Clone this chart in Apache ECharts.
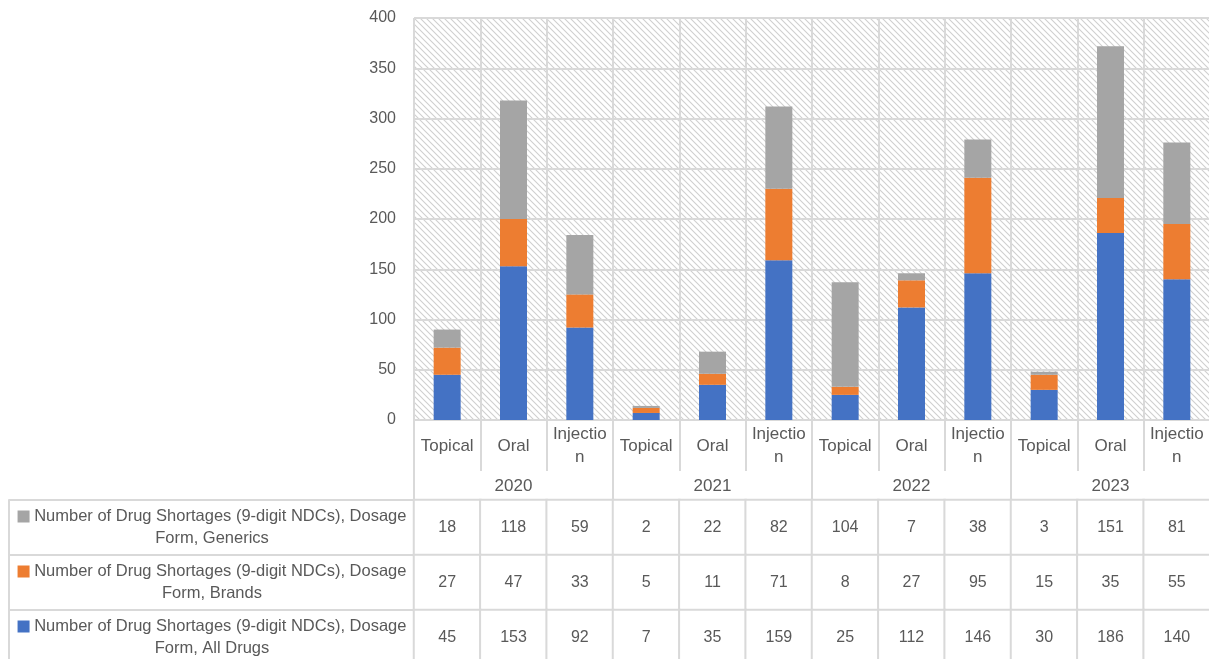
<!DOCTYPE html>
<html>
<head>
<meta charset="utf-8">
<script src="https://cdn.jsdelivr.net/npm/echarts@6/dist/echarts.min.js"></script>
<style>
  html, body { margin: 0; padding: 0; background: #ffffff; }
  #chart { width: 1209px; height: 659px; }
</style>
</head>
<body>
<div id="chart"></div>
<script>
// Dosage forms per year and the three stacked series
const years = ['2020', '2021', '2022', '2023'];
const forms = ['Topical', 'Oral', 'Injection'];
const categories = ['Topical', 'Oral', 'Injection', 'Topical', 'Oral', 'Injection',
                    'Topical', 'Oral', 'Injection', 'Topical', 'Oral', 'Injection'];
const allDrugs = [45, 153, 92, 7, 35, 159, 25, 112, 146, 30, 186, 140];
const brands   = [27, 47, 33, 5, 11, 71, 8, 27, 95, 15, 35, 55];
const generics = [18, 118, 59, 2, 22, 82, 104, 7, 38, 3, 151, 81];
const yTicks = [0, 50, 100, 150, 200, 250, 300, 350, 400];

const seriesNames = [
  'Number of Drug Shortages (9-digit NDCs), Dosage Form, Generics',
  'Number of Drug Shortages (9-digit NDCs), Dosage Form, Brands',
  'Number of Drug Shortages (9-digit NDCs), Dosage Form, All Drugs'
];
const colors = { all: '#4472c4', brands: '#ed7d31', generics: '#a5a5a5' };

const FONT = 'Liberation Sans, Arial, sans-serif';
const TEXT = '#595959';
const LINE = '#d9d9d9';

// Light diagonal hatch for the plot area
function hatch() {
  const s = 6;
  const c = document.createElement('canvas');
  c.width = s; c.height = s;
  const g = c.getContext('2d');
  g.fillStyle = '#ffffff';
  g.fillRect(0, 0, s, s);
  g.strokeStyle = '#cfcfcf';
  g.lineWidth = 1.1;
  g.beginPath();
  g.moveTo(-1, -1); g.lineTo(s + 1, s + 1);
  g.moveTo(-1, s - 1); g.lineTo(1, s + 1);
  g.moveTo(s - 1, -1); g.lineTo(s + 1, 1);
  g.stroke();
  return c;
}

// Table rows: Generics (top), Brands, All Drugs (bottom)
const rowKeys = ['Generics', 'Brands', 'All Drugs'];
const rowValues = [generics, brands, allDrugs];
const rowColors = [colors.generics, colors.brands, colors.all];
const tableData = [];
rowValues.forEach((vals, r) => vals.forEach((v, i) => tableData.push([i, r, v])));

const chart = echarts.init(document.getElementById('chart'), null, { renderer: 'canvas' });

chart.setOption({
  backgroundColor: '#ffffff',
  animation: false,
  textStyle: { fontFamily: FONT },
  grid: [
    { left: 414, width: 796, top: 18, height: 402, show: true, outerBoundsMode: 'none',
      containLabel: false,
      backgroundColor: { image: hatch(), repeat: 'repeat' }, borderWidth: 0 },
    { left: 414, width: 796, top: 500, height: 165, outerBoundsMode: 'none',
      containLabel: false }
  ],
  xAxis: [
    { type: 'category', gridIndex: 0, position: 'bottom', data: categories,
      axisLine: { show: true, lineStyle: { color: LINE, width: 2 } },
      axisTick: { show: true, interval: 0, length: 51, lineStyle: { color: LINE, width: 2 } },
      splitLine: { show: true, interval: 0, lineStyle: { color: LINE, width: 2 } },
      axisLabel: { interval: 0, color: TEXT, fontSize: 17, fontFamily: FONT,
        margin: 26, verticalAlign: 'middle', lineHeight: 23,
        width: 58, overflow: 'breakAll', align: 'center' } },
    { type: 'category', gridIndex: 0, position: 'bottom', data: years,
      axisLine: { show: false },
      axisTick: { show: true, interval: 0, length: 80, lineStyle: { color: LINE, width: 2 } },
      splitLine: { show: false },
      axisLabel: { interval: 0, color: TEXT, fontSize: 17, fontFamily: FONT,
        margin: 66, verticalAlign: 'middle' } },
    { type: 'category', gridIndex: 1, data: categories, show: false }
  ],
  yAxis: [
    { type: 'value', gridIndex: 0, min: 0, max: 400, interval: 50,
      axisLine: { show: false }, axisTick: { show: false },
      splitLine: { show: true, lineStyle: { color: LINE, width: 2 } },
      axisLabel: { color: TEXT, fontSize: 16, fontFamily: FONT, margin: 18,
        formatter: v => (yTicks.includes(v) ? String(v) : '') } },
    { type: 'category', gridIndex: 1, inverse: true, data: rowKeys,
      axisLine: { show: false },
      axisTick: { show: true, interval: 0, length: 405, lineStyle: { color: LINE, width: 2 } },
      axisLabel: {
        interval: 0, margin: 202, align: 'center', color: TEXT, fontSize: 16.5,
        fontFamily: FONT, lineHeight: 22,
        formatter: (v, i) => '{sq' + i + '|}' + ' Number of Drug Shortages (9-digit NDCs), Dosage\nForm, ' + v,
        rich: {
          sq0: { backgroundColor: rowColors[0], width: 12, height: 12 },
          sq1: { backgroundColor: rowColors[1], width: 12, height: 12 },
          sq2: { backgroundColor: rowColors[2], width: 12, height: 12 }
        }
      } },
    { type: 'category', gridIndex: 1, inverse: true, data: rowKeys, position: 'left', offset: 405,
      axisLine: { show: true, lineStyle: { color: LINE, width: 2 } },
      axisTick: { show: false }, axisLabel: { show: false } }
  ],
  visualMap: { show: false, seriesIndex: 3, min: 0, max: 200,
    inRange: { color: ['#ffffff', '#ffffff'] } },
  series: [
    { name: seriesNames[2], type: 'bar', stack: 'total', data: allDrugs, barWidth: 27,
      xAxisIndex: 0, yAxisIndex: 0, itemStyle: { color: colors.all } },
    { name: seriesNames[1], type: 'bar', stack: 'total', data: brands, barWidth: 27,
      xAxisIndex: 0, yAxisIndex: 0, itemStyle: { color: colors.brands } },
    { name: seriesNames[0], type: 'bar', stack: 'total', data: generics, barWidth: 27,
      xAxisIndex: 0, yAxisIndex: 0, itemStyle: { color: colors.generics } },
    { type: 'heatmap', xAxisIndex: 2, yAxisIndex: 1, data: tableData,
      itemStyle: { color: '#ffffff', borderColor: LINE, borderWidth: 2 },
      label: { show: true, color: TEXT, fontSize: 16, fontFamily: FONT,
        formatter: p => String(p.value[2]) },
      emphasis: { disabled: true } }
  ]
});
</script>
</body>
</html>
